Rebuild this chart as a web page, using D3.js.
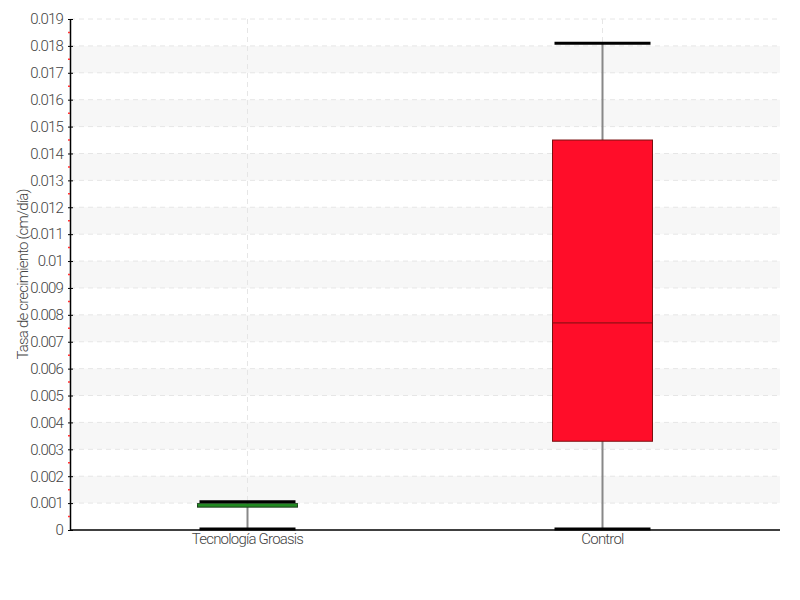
<!DOCTYPE html>
<meta charset="utf-8">
<style type="text/css">
	body {
		margin: 0;
		background: #fff;
		font-family: Roboto, sans-serif;
	}

	.axis text, .y-label {
		font-family: Roboto, sans-serif;
		font-weight: 300;
		font-size: 15px;
		letter-spacing: -0.8px;
		fill: #444;
	}

	.domain {
		stroke: #000;
		stroke-width: 1.5px;
	}

	.grid line {
		stroke: #e6e6e6;
		stroke-dasharray: 5,4;
	}

	.band {
		fill: #f7f7f7;
	}

	.whisker {
		stroke: #888;
		stroke-width: 2px;
	}

	.cap {
		stroke: #000;
		stroke-width: 3px;
	}
</style>

<body>
<div class="g-chart"></div>
</body>

<script src="https://d3js.org/d3.v7.min.js"></script>

<script>
  //Data
  var categories = ["Tecnología Groasis", "Control"];
  var mins = [0, 0];
  var q1s = [0.00085, 0.0033];
  var medians = [0.00095, 0.0077];
  var q3s = [0.00098, 0.0145];
  var maxs = [0.00105, 0.0181];
  var fills = ["#228b22", "#ff0d29"];
  var strokes = ["#1d3d1d", "#7a1010"];
  var yTicks = d3.range(0, 20).map(function(i) { return i / 1000; });
  var yMinorTicks = d3.range(0, 19).map(function(i) { return (i + 0.5) / 1000; });

  //Margin conventions
  var margin = { top: 19, right: 20, bottom: 70, left: 70 };
  var width = 800 - margin.left - margin.right,
    height = 600 - margin.top - margin.bottom;

  var svg = d3.select(".g-chart").append("svg")
    .attr("width", 800)
    .attr("height", 600)
    .append("g")
    .attr("transform", "translate(" + margin.left + "," + margin.top + ")");

  var xScale = d3.scaleBand()
    .domain(categories)
    .range([0, width]);

  var yScale = d3.scaleLinear()
    .domain([0, 0.019])
    .range([height, 0]);

  //Alternating bands
  svg.selectAll("rect.band")
    .data(yTicks.filter(function(d, i) { return i % 2 == 1 && i < 18; }))
    .enter()
    .append("rect")
    .attr("class", "band")
    .attr("x", 0)
    .attr("width", width)
    .attr("y", function(d) { return yScale(d + 0.001); })
    .attr("height", function(d) { return yScale(d) - yScale(d + 0.001); });

  //Grid
  var grid = svg.append("g").attr("class", "grid");
  grid.selectAll("line.h")
    .data(yTicks.slice(1))
    .enter()
    .append("line")
    .attr("x1", 0)
    .attr("x2", width)
    .attr("y1", function(d) { return yScale(d); })
    .attr("y2", function(d) { return yScale(d); });
  grid.selectAll("line.v")
    .data(categories)
    .enter()
    .append("line")
    .attr("x1", function(d) { return xScale(d) + xScale.bandwidth() / 2; })
    .attr("x2", function(d) { return xScale(d) + xScale.bandwidth() / 2; })
    .attr("y1", 0)
    .attr("y2", height);

  //Boxes
  var boxW = 100, capW = 96;
  var boxes = svg.selectAll("g.box")
    .data(categories)
    .enter()
    .append("g")
    .attr("class", "box")
    .attr("transform", function(d) { return "translate(" + (xScale(d) + xScale.bandwidth() / 2) + ",0)"; });

  boxes.append("line")
    .attr("class", "whisker")
    .attr("x1", 0).attr("x2", 0)
    .attr("y1", function(d, i) { return yScale(maxs[i]); })
    .attr("y2", function(d, i) { return yScale(mins[i]); });

  boxes.append("line")
    .attr("class", "cap")
    .attr("x1", -capW / 2).attr("x2", capW / 2)
    .attr("y1", function(d, i) { return yScale(maxs[i]); })
    .attr("y2", function(d, i) { return yScale(maxs[i]); });

  boxes.append("rect")
    .attr("x", -boxW / 2)
    .attr("width", boxW)
    .attr("y", function(d, i) { return yScale(q3s[i]); })
    .attr("height", function(d, i) { return yScale(q1s[i]) - yScale(q3s[i]); })
    .style("fill", function(d, i) { return fills[i]; })
    .style("stroke", function(d, i) { return strokes[i]; })
    .style("stroke-width", 1);

  boxes.append("line")
    .attr("x1", -boxW / 2).attr("x2", boxW / 2)
    .attr("y1", function(d, i) { return yScale(medians[i]); })
    .attr("y2", function(d, i) { return yScale(medians[i]); })
    .style("stroke", function(d, i) { return i == 0 ? fills[i] : strokes[i]; })
    .style("stroke-width", 1);

  boxes.append("line")
    .attr("class", "cap")
    .attr("x1", -capW / 2).attr("x2", capW / 2)
    .attr("y1", function(d, i) { return yScale(mins[i]) - 1; })
    .attr("y2", function(d, i) { return yScale(mins[i]) - 1; });

  //Axes
  var yAxis = d3.axisLeft(yScale)
    .tickValues(yTicks)
    .tickFormat(function(d) { return String(+d.toFixed(3)); })
    .tickSizeInner(3)
    .tickSizeOuter(0)
    .tickPadding(4);

  var yAxisGroup = svg.append("g")
    .attr("class", "y axis")
    .call(yAxis);
  yAxisGroup.selectAll(".tick line")
    .attr("x1", 3)
    .attr("x2", -2)
    .attr("stroke", "#000");

  //Minor ticks
  svg.append("g").selectAll("line")
    .data(yMinorTicks)
    .enter()
    .append("line")
    .attr("x1", -2).attr("x2", 0)
    .attr("y1", function(d) { return yScale(d); })
    .attr("y2", function(d) { return yScale(d); })
    .style("stroke", "#f33")
    .style("stroke-width", 1.5);

  var xAxis = d3.axisBottom(xScale)
    .tickSize(0)
    .tickPadding(3);

  svg.append("g")
    .attr("class", "x axis")
    .attr("transform", "translate(0," + height + ")")
    .call(xAxis)
    .select(".domain")
    .attr("d", "M0,0H" + width);

  svg.append("text")
    .attr("class", "y-label")
    .attr("transform", "rotate(-90)")
    .attr("x", -height / 2)
    .attr("y", -42)
    .attr("text-anchor", "middle")
    .text("Tasa de crecimiento (cm/día)");
</script>
